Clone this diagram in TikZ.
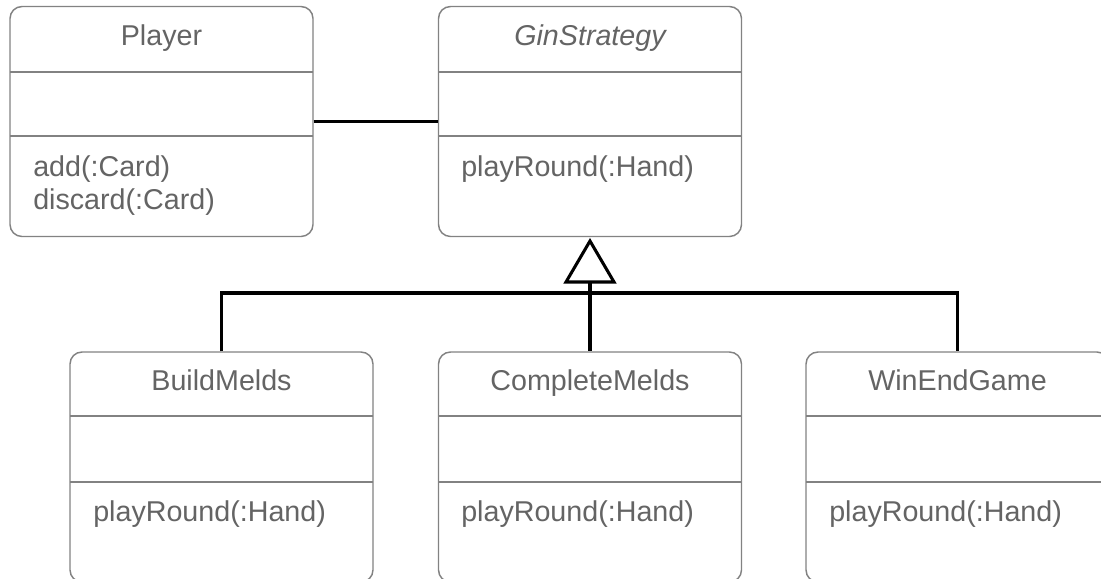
\documentclass[tikz,border=0pt]{standalone}
\usepackage{fontspec}
\setmainfont{Liberation Sans}
\definecolor{txtgray}{RGB}{100,100,100}
\definecolor{boxgray}{RGB}{130,130,130}
\tikzset{
  umlbox/.style={draw=boxgray, line width=1.1pt, rounded corners=9pt, fill=white,
    minimum width=227.25pt, minimum height=172.5pt, inner sep=0pt},
  divider/.style={draw=boxgray, line width=1.1pt},
  ttl/.style={text=txtgray, font=\fontsize{21.5}{26}\selectfont, inner sep=0pt, anchor=base},
  ops/.style={text=txtgray, font=\fontsize{21.5}{26}\selectfont, inner sep=0pt, anchor=base west},
  conn/.style={draw=black, line width=2.3pt},
}
\begin{document}
\begin{tikzpicture}[x=0.75pt, y=-0.75pt]
\useasboundingbox (0,0) rectangle (1101,579);
\clip (0,0) rectangle (1101,579);
% Player
\node[umlbox] (player) at (161.5,121.5) {};
\draw[divider] (10,72) -- (313,72);
\draw[divider] (10,136) -- (313,136);
\node[ttl] (playerT) at (161.5,45) {Player};
\node[ops] (playerO1) at (33,176) {add(:Card)};
\node[ops] (playerO2) at (33,209) {discard(:Card)};
% GinStrategy
\node[umlbox] (gin) at (590,121.5) {};
\draw[divider] (438,72) -- (742,72);
\draw[divider] (438,136) -- (742,136);
\node[ttl, font=\fontsize{21.5}{26}\selectfont\itshape] (ginT) at (590,45) {GinStrategy};
\node[ops] (ginO) at (461,176) {playRound(:Hand)};
% BuildMelds
\node[umlbox] (build) at (221.5,467) {};
\draw[divider] (70,416) -- (373,416);
\draw[divider] (70,482) -- (373,482);
\node[ttl] (buildT) at (221.5,390) {BuildMelds};
\node[ops] (buildO) at (93,521) {playRound(:Hand)};
% CompleteMelds
\node[umlbox] (complete) at (590,467) {};
\draw[divider] (438,416) -- (742,416);
\draw[divider] (438,482) -- (742,482);
\node[ttl] (completeT) at (590,390) {CompleteMelds};
\node[ops] (completeO) at (461,521) {playRound(:Hand)};
% WinEndGame
\node[umlbox] (win) at (957.5,467) {};
\draw[divider] (806,416) -- (1109,416);
\draw[divider] (806,482) -- (1109,482);
\node[ttl] (winT) at (957.5,390) {WinEndGame};
\node[ops] (winO) at (829,521) {playRound(:Hand)};
% association
\draw[conn] (player.east) -- (gin.west);
% generalization
\coordinate (apex) at (590,241);
\coordinate (tl) at (566,282);
\coordinate (tr) at (614,282);
\coordinate (tb) at (590,282);
\coordinate (bus) at (590,293);
\draw[conn, line join=miter] (apex) -- (tl) -- (tr) -- cycle;
\draw[conn] (tb) -- (complete.north);
\draw[conn] (build.north) |- (bus) -| (win.north);
\end{tikzpicture}
\end{document}
